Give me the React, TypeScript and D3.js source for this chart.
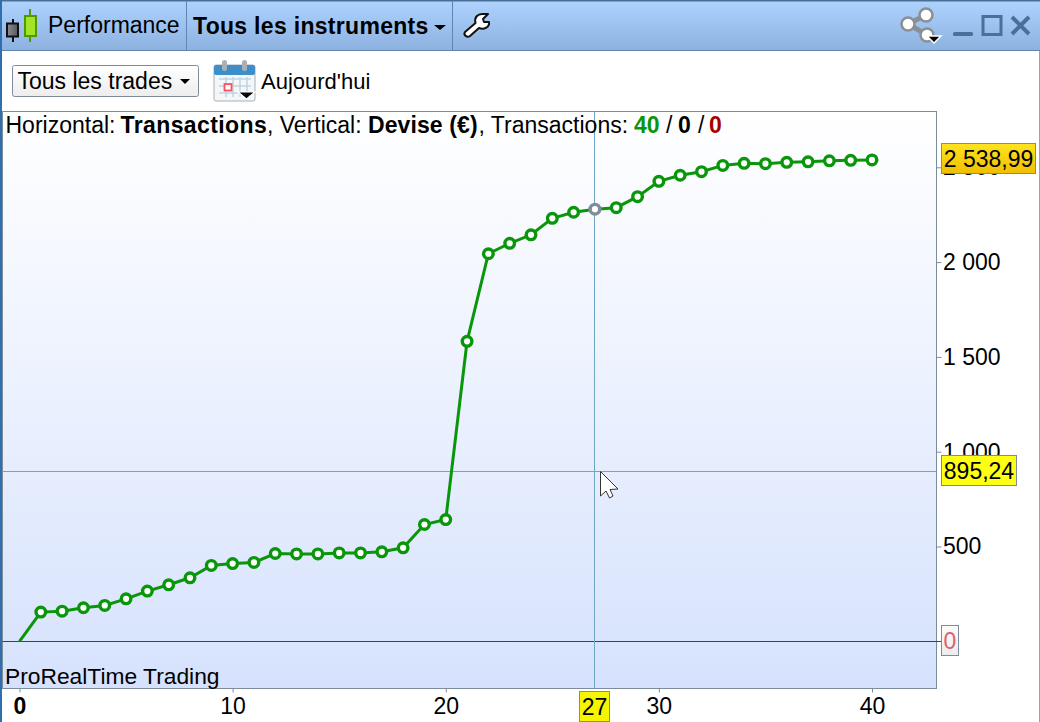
import * as d3 from 'd3';
import { useRef, useEffect } from "react"

// equity curve (index = transaction number)
const trades = [0, 1, 2, 3, 4, 5, 6, 7, 8, 9, 10, 11, 12, 13, 14, 15, 16, 17, 18, 19, 20, 21, 22, 23, 24, 25, 26, 27, 28, 29, 30, 31, 32, 33, 34, 35, 36, 37, 38, 39, 40]
const equity = [0, 154, 159, 177, 189, 224, 265, 298, 335, 400, 410, 416, 463, 461, 461, 466, 466, 472, 493, 616, 642, 1582, 2044, 2099, 2144, 2231, 2263, 2279, 2287, 2345, 2426, 2458, 2477, 2510, 2521, 2519, 2526, 2529, 2534, 2537, 2538.99]
const xTicks = [0, 10, 20, 30, 40]
const yTicks = [500, 1000, 1500, 2000, 2500]
const hoverTrade = 27
const hoverValue = 895.24
const lastValue = 2538.99

const FONT = "'Liberation Sans', Arial, sans-serif"
const GREEN = "#0a960a"
const frame = { left: 2.5, top: 111.5, right: 936.5, bottom: 688.5 }

const x = d3.scaleLinear().domain([0, 40]).range([19.5, 872])
const y = d3.scaleLinear().domain([0, 2500]).range([641.3, 167.3])

const fmt = (v: number) => String(v).replace(/\B(?=(\d{3})+(?!\d))/g, " ")
const fmtDec = (v: number) => fmt(Math.floor(v)) + "," + v.toFixed(2).split(".")[1]
const crisp = (v: number) => Math.floor(v) + 0.5

function App() {
    const ref = useRef<SVGGElement | null>(null)

    useEffect(() => {
        renderChart();
    }, [])

    function renderChart() {
        const svg = d3.select(ref.current!)
        svg.selectAll("*").remove()

        // right axis
        const yAxis = svg.append("g")
            .attr("transform", `translate(${frame.right},0)`)
            .call(d3.axisRight(y).tickValues(yTicks).tickSize(5).tickPadding(1.5).tickFormat(d => fmt(+d)))
        yAxis.select(".domain").remove()
        yAxis.selectAll("line").attr("stroke", "#7c8c9a")
        yAxis.selectAll("text").attr("font-family", FONT).attr("font-size", 23).attr("fill", "#000")

        // bottom axis
        const xAxis = svg.append("g")
            .attr("transform", `translate(0,${frame.bottom})`)
            .call(d3.axisBottom(x).tickValues(xTicks).tickSize(4).tickPadding(5).tickFormat(d => String(d)))
        xAxis.select(".domain").remove()
        xAxis.selectAll("line").attr("stroke", "#7c8c9a")
        xAxis.selectAll("text")
            .attr("font-family", FONT).attr("font-size", 23).attr("fill", "#000")
            .attr("font-weight", (d: any) => d === 0 ? "bold" : "normal")

        // zero line and crosshair
        svg.append("line")
            .attr("x1", frame.left).attr("x2", 941)
            .attr("y1", crisp(y(0))).attr("y2", crisp(y(0)))
            .attr("stroke", "#2f36b4").attr("stroke-width", 1)
        svg.append("line")
            .attr("x1", frame.left).attr("x2", frame.right)
            .attr("y1", crisp(y(hoverValue))).attr("y2", crisp(y(hoverValue)))
            .attr("stroke", "#6fa6c6").attr("stroke-width", 1)
        svg.append("line")
            .attr("x1", crisp(x(hoverTrade))).attr("x2", crisp(x(hoverTrade)))
            .attr("y1", frame.top).attr("y2", frame.bottom)
            .attr("stroke", "#6fa6c6").attr("stroke-width", 1)

        // equity line
        const line = d3.line<number>().x((_, i) => x(trades[i])).y(d => y(d))
        svg.append("path")
            .attr("d", line(equity))
            .attr("fill", "none")
            .attr("stroke", GREEN)
            .attr("stroke-width", 3)

        // markers, the first point has none
        svg.append("g")
            .selectAll("circle")
            .data(equity.slice(1))
            .enter()
            .append("circle")
            .attr("cx", (_, i) => x(trades[i + 1]))
            .attr("cy", d => y(d))
            .attr("r", 4.8)
            .attr("fill", "#fff")
            .attr("stroke", (_, i) => trades[i + 1] === hoverTrade ? "#7f8c99" : GREEN)
            .attr("stroke-width", 3.4)

        // value labels on the axes
        const badge = (bx: number, by: number, w: number, h: number, fill: string, label: string, color: string) => {
            svg.append("rect")
                .attr("x", bx).attr("y", by).attr("width", w).attr("height", h)
                .attr("fill", fill).attr("stroke", "#7c8c9a").attr("stroke-width", 1)
            svg.append("text")
                .attr("x", bx + w / 2).attr("y", by + h / 2 + 8)
                .attr("text-anchor", "middle")
                .attr("font-family", FONT).attr("font-size", 23).attr("fill", color)
                .text(label)
        }
        badge(941.5, 143.5, 94, 30, "url(#gold)", fmtDec(lastValue), "#000")
        badge(941.5, 455.5, 75, 30, "#ffff14", fmtDec(hoverValue), "#000")
        badge(941.5, 625.5, 17, 30, "url(#greyBadge)", "0", "#e0606c")
        badge(crisp(x(hoverTrade)) - 15, 691.5, 30, 30, "#f5f500", String(hoverTrade), "#000")
    }

    return (
        <svg width={1040} height={722} style={{ position: 'absolute', left: 0, top: 0, background: '#fff' }} fontFamily={FONT}>
            <defs>
                <linearGradient id="plotBg" x1="0" y1="0" x2="0" y2="1">
                    <stop offset="0" stopColor="#ffffff" />
                    <stop offset="1" stopColor="#d6e2fd" />
                </linearGradient>
                <linearGradient id="titleBg" x1="0" y1="0" x2="0" y2="1">
                    <stop offset="0" stopColor="#aed3ff" />
                    <stop offset="1" stopColor="#8db2e0" />
                </linearGradient>
                <linearGradient id="gold" x1="0" y1="0" x2="0" y2="1">
                    <stop offset="0" stopColor="#ffe41e" />
                    <stop offset="1" stopColor="#f0be00" />
                </linearGradient>
                <linearGradient id="greyBadge" x1="0" y1="0" x2="0" y2="1">
                    <stop offset="0" stopColor="#fbfbfb" />
                    <stop offset="1" stopColor="#ececec" />
                </linearGradient>
                <linearGradient id="btnBg" x1="0" y1="0" x2="0" y2="1">
                    <stop offset="0" stopColor="#ffffff" />
                    <stop offset="1" stopColor="#ededed" />
                </linearGradient>
                <linearGradient id="darkCandle" x1="0" y1="0" x2="1" y2="0">
                    <stop offset="0" stopColor="#8a8d92" />
                    <stop offset="1" stopColor="#55585e" />
                </linearGradient>
            </defs>

            {/* title bar */}
            <rect x={0} y={0} width={1040} height={50} fill="url(#titleBg)" />
            <rect x={0} y={0} width={1040} height={1.5} fill="#4a6f94" />
            <rect x={0} y={50} width={1040} height={1} fill="#5f86b0" />
            <rect x={0} y={0} width={2} height={722} fill="#2f6fae" />
            <rect x={1039} y={51} width={1} height={671} fill="#9aa4ae" />
            <rect x={186} y={1} width={1} height={49} fill="#5f86b0" />
            <rect x={452} y={1} width={1} height={49} fill="#5f86b0" />

            {/* candlestick icon */}
            <line x1={13} y1={19} x2={13} y2={42} stroke="#111" strokeWidth={2} />
            <rect x={7} y={23.5} width={11} height={13} fill="url(#darkCandle)" stroke="#111" strokeWidth={2} />
            <line x1={30} y1={9} x2={30} y2={42} stroke="#4f9a00" strokeWidth={2} />
            <rect x={25} y={16} width={11} height={20} fill="#a4e426" stroke="#4f9a00" strokeWidth={2} />

            <text x={48} y={33} fontSize={23}>Performance</text>
            <text x={193} y={34} fontSize={23} fontWeight="bold" letterSpacing={0.3}>Tous les instruments</text>
            <path d="M434,25 L446,25 L440,30 Z" fill="#000" />

            {/* wrench icon */}
            <path d="M465,32 L475.5,23 C474,17 478,14 482,14 L488,14 L483,19 L484,22 L489,22 C490,27 484,30 479,28 L470,36 C467,38 463,35 465,32 Z"
                fill="#fff" stroke="#111" strokeWidth={2} strokeLinejoin="round" />

            {/* share icon */}
            <line x1={926} y1={15} x2={908} y2={24} stroke="#8a8f96" strokeWidth={5} />
            <line x1={908} y1={24} x2={927} y2={35} stroke="#8a8f96" strokeWidth={5} />
            <circle cx={926} cy={15} r={6.5} fill="#fff" stroke="#8a8f96" strokeWidth={2.5} />
            <circle cx={908} cy={24} r={6.5} fill="#fff" stroke="#8a8f96" strokeWidth={2.5} />
            <circle cx={927} cy={35} r={6.5} fill="#fff" stroke="#8a8f96" strokeWidth={2.5} />
            <path d="M927,36 L941,36 L934,43 Z" fill="#000" stroke="#fff" strokeWidth={1.5} />

            {/* window buttons */}
            <rect x={953} y={32} width={20} height={4} rx={1.5} fill="#4a6f99" />
            <rect x={983} y={16.5} width={18} height={18} fill="none" stroke="#4a6f99" strokeWidth={3} />
            <path d="M1012,17 L1029,34 M1029,17 L1012,34" stroke="#4a6f99" strokeWidth={4} />

            {/* toolbar */}
            <rect x={12.5} y={65.5} width={186} height={31} rx={2} fill="url(#btnBg)" stroke="#7c8c9a" />
            <text x={17.5} y={89} fontSize={23}>Tous les trades</text>
            <path d="M180,79 L190,79 L185,84 Z" fill="#000" />

            {/* calendar icon */}
            <rect x={214} y={65} width={41} height={36} rx={2} fill="#f4f6f8" stroke="#a8b0b8" />
            <rect x={214} y={65} width={41} height={10} rx={2} fill="#3d8fcb" />
            <rect x={222} y={60} width={5} height={11} rx={2.5} fill="#a8b0b8" />
            <rect x={242} y={60} width={5} height={11} rx={2.5} fill="#a8b0b8" />
            <g stroke="#bcd6e6" strokeWidth={1.5}>
                <path d="M219,79 H251 M219,86 H251 M219,93 H246 M226,77 V97 M233,77 V97 M240,77 V97 M247,77 V92" fill="none" />
            </g>
            <rect x={224.5} y={84} width={7} height={6.5} fill="#fff" stroke="#ff4f5f" strokeWidth={1.8} />
            <path d="M238,92 L255,92 L246.5,99 Z" fill="#000" stroke="#fff" strokeWidth={1.2} />
            <text x={261} y={89} fontSize={22}>Aujourd'hui</text>

            {/* plot area */}
            <rect x={frame.left} y={frame.top} width={frame.right - frame.left} height={frame.bottom - frame.top}
                fill="url(#plotBg)" stroke="#7c8c9a" strokeWidth={1} />

            <g ref={ref} />

            <text y={133} fontSize={23}>
                <tspan x={5.5}>Horizontal:</tspan>
                <tspan x={120.5} fontWeight="bold" letterSpacing={0.4}>Transactions</tspan>
                <tspan x={267}>, Vertical:</tspan>
                <tspan x={368} fontWeight="bold" letterSpacing={0.1}>Devise (€)</tspan>
                <tspan x={478.5}>, Transactions:</tspan>
                <tspan x={634} fontWeight="bold" fill={GREEN}>40</tspan>
                <tspan x={666}>/</tspan>
                <tspan x={678} fontWeight="bold">0</tspan>
                <tspan x={698}>/</tspan>
                <tspan x={709} fontWeight="bold" fill="#a80000">0</tspan>
            </text>
            <text x={5} y={684} fontSize={22.8}>ProRealTime Trading</text>

            {/* mouse cursor */}
            <path d="M600.5,471.5 L600.5,496 L606,491 L609.5,498 L613,496 L610,489.5 L618,489 Z" fill="#fff" stroke="#333" strokeWidth={1} strokeLinejoin="round" />
        </svg>
    )
}

export default App;
